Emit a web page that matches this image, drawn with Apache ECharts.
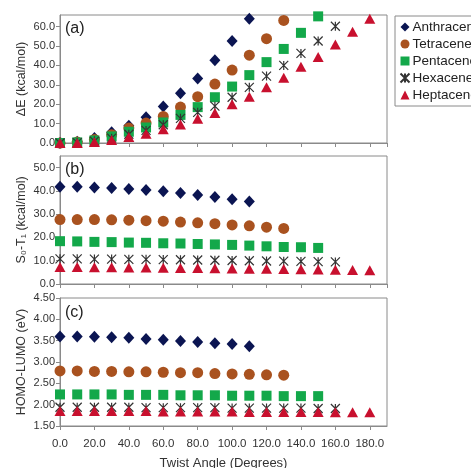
<!DOCTYPE html>
<html><head><meta charset="utf-8">
<script src="https://cdn.jsdelivr.net/npm/echarts@6/dist/echarts.min.js"></script>
<style>html,body{margin:0;padding:0;background:#fff}#c{width:471px;height:468px}</style>
</head><body><div id="c"></div>
<script>
const angles = [0,10,20,30,40,50,60,70,80,90,100,110,120,130,140,150,160,170,180];
const seriesNames = ['Anthracene','Tetracene','Pentacene','Hexacene','Heptacene'];
const xTickLabels = ['0.0','20.0','40.0','60.0','80.0','100.0','120.0','140.0','160.0','180.0'];

// Panel (a): ΔE (kcal/mol)
const dE_anthracene = [0, 0.7, 2.6, 5.5, 8.9, 13.3, 18.8, 25.6, 33.3, 42.7, 52.6, 64.1];
const dE_tetracene  = [0, 0.5, 1.8, 4.3, 7.7, 10.3, 13.7, 18.5, 23.9, 30.4, 37.6, 45.3, 53.8, 63.2];
const dE_pentacene  = [0, 0.3, 1.3, 3.4, 5.8, 8.0, 10.6, 14.5, 18.5, 23.6, 29.1, 35.0, 41.7, 48.5, 56.8, 65.3];
const dE_hexacene   = [0, 0.2, 1.0, 2.5, 4.5, 6.5, 9.4, 12.7, 15.8, 19.0, 23.6, 28.7, 34.5, 40.0, 46.2, 52.6, 60.2];
const dE_heptacene  = [0, 0, 0.5, 1.5, 3.1, 4.8, 7.1, 9.6, 12.5, 15.5, 20.0, 23.9, 28.7, 33.7, 39.3, 44.4, 50.8, 57.3, 64.1];

// Panel (b): S0-T1 (kcal/mol)
const st_anthracene = [41.8, 41.8, 41.5, 41.2, 40.8, 40.4, 39.8, 39.1, 38.2, 37.4, 36.4, 35.5];
const st_tetracene  = [27.7, 27.7, 27.7, 27.6, 27.4, 27.2, 27.0, 26.6, 26.3, 25.9, 25.4, 25.0, 24.4, 23.9];
const st_pentacene  = [18.4, 18.3, 18.1, 18.0, 17.8, 17.7, 17.5, 17.4, 17.2, 17.0, 16.8, 16.5, 16.2, 15.9, 15.8, 15.5];
const st_hexacene   = [10.8, 10.8, 10.7, 10.7, 10.6, 10.6, 10.5, 10.4, 10.3, 10.2, 10.1, 10.0, 9.9, 9.8, 9.7, 9.6, 9.5];
const st_heptacene  = [7.3, 7.3, 7.2, 7.2, 7.1, 7.1, 7.0, 6.9, 6.9, 6.8, 6.7, 6.6, 6.5, 6.4, 6.3, 6.2, 6.1, 6.0, 5.9];

// Panel (c): HOMO-LUMO (eV)
const hl_anthracene = [3.60, 3.60, 3.59, 3.58, 3.57, 3.54, 3.52, 3.49, 3.47, 3.44, 3.42, 3.37];
const hl_tetracene  = [2.79, 2.79, 2.78, 2.78, 2.77, 2.77, 2.76, 2.75, 2.75, 2.73, 2.72, 2.71, 2.70, 2.69];
const hl_pentacene  = [2.24, 2.24, 2.24, 2.24, 2.23, 2.23, 2.23, 2.22, 2.22, 2.22, 2.21, 2.21, 2.21, 2.20, 2.20, 2.20];
const hl_hexacene   = [1.94, 1.94, 1.94, 1.94, 1.94, 1.93, 1.93, 1.93, 1.93, 1.93, 1.92, 1.92, 1.92, 1.92, 1.92, 1.91, 1.91];
const hl_heptacene  = [1.85, 1.85, 1.85, 1.85, 1.85, 1.85, 1.84, 1.84, 1.84, 1.84, 1.84, 1.83, 1.83, 1.83, 1.83, 1.83, 1.82, 1.82, 1.82];

const panels = [
  [dE_anthracene, dE_tetracene, dE_pentacene, dE_hexacene, dE_heptacene],
  [st_anthracene, st_tetracene, st_pentacene, st_hexacene, st_heptacene],
  [hl_anthracene, hl_tetracene, hl_pentacene, hl_hexacene, hl_heptacene]
];

const FONT = '"Liberation Sans", Arial, sans-serif';
const AX = '#8a8a8a';
const styles = [
  {symbol: 'diamond', symbolSize: [11, 12], itemStyle: {color: '#0b1552', opacity: 1}},
  {symbol: 'circle', symbolSize: 11, itemStyle: {color: '#a9521f', opacity: 1}},
  {symbol: 'rect', symbolSize: 10, itemStyle: {color: '#13a84a', opacity: 1}},
  {symbol: 'path://M0,0L10,10M10,0L0,10M5,0L5,10', symbolSize: 9,
   itemStyle: {color: 'none', borderColor: '#333', borderWidth: 1.2, opacity: 1}},
  {symbol: 'triangle', symbolSize: [11, 10], itemStyle: {color: '#c8102e', opacity: 1}}
];

const gridTops = [15, 156, 298];
const grids = gridTops.map(t => ({left: 60, top: t, width: 327, height: 128, show: true,
  containLabel: false, outerBoundsMode: 'none',
  borderColor: AX, borderWidth: 1, backgroundColor: 'transparent'}));

const xAxes = gridTops.map((t, i) => ({
  type: 'value', gridIndex: i, min: 0, max: 190, interval: 20,
  axisLine: {show: true, lineStyle: {color: AX}},
  axisTick: {show: true, length: 4, lineStyle: {color: AX}},
  splitLine: {show: false},
  axisLabel: {show: i === 2, showMaxLabel: false, color: '#333', fontSize: 11.5, fontFamily: FONT, margin: 12,
    formatter: v => xTickLabels[v / 20] || ''},
  name: i === 2 ? 'Twist Angle (Degrees)' : '', nameLocation: 'middle', nameGap: 31, nameMoveOverlap: false,
  nameTextStyle: {color: '#333', fontSize: 13, fontFamily: FONT}
}));

const yCfg = [
  {min: 0, max: 66, interval: 10, name: 'ΔE (kcal/mol)', dec: 1},
  {min: 0, max: 55, interval: 10, name: 'S₀-T₁ (kcal/mol)', dec: 1},
  {min: 1.5, max: 4.5, interval: 0.5, name: 'HOMO-LUMO (eV)', dec: 2}
];
const yAxes = yCfg.map((c, i) => ({
  type: 'value', gridIndex: i, min: c.min, max: c.max, interval: c.interval,
  axisLine: {show: true, lineStyle: {color: AX}},
  axisTick: {show: true, length: 4, lineStyle: {color: AX}},
  splitLine: {show: false},
  axisLabel: {color: '#333', fontSize: 11, fontFamily: FONT, margin: 5, showMaxLabel: i === 2,
    formatter: v => v.toFixed(c.dec)},
  name: c.name, nameLocation: 'middle', nameGap: 32, nameMoveOverlap: false,
  nameTextStyle: {color: '#333', fontSize: 12.5, fontFamily: FONT}
}));

const series = [];
panels.forEach((arrs, g) => {
  arrs.forEach((vals, k) => {
    series.push(Object.assign({
      type: 'scatter', name: seriesNames[k], xAxisIndex: g, yAxisIndex: g,
      data: vals.map((v, j) => [angles[j], v]), z: 2 + k, clip: false
    }, styles[k]));
  });
});

const chart = echarts.init(document.getElementById('c'), null, {renderer: 'canvas'});
chart.setOption({
  animation: false,
  backgroundColor: '#fff',
  grid: grids, xAxis: xAxes, yAxis: yAxes, series: series,
  legend: {
    data: seriesNames, orient: 'vertical', left: 395, top: 16,
    padding: [4, 4, 4, 3], itemGap: 3, itemWidth: 9, itemHeight: 9,
    borderColor: AX, borderWidth: 1, borderRadius: 0,
    textStyle: {color: '#222', fontSize: 13.5, fontFamily: FONT, padding: [0, 0, 0, -2]}
  },
  graphic: [
    {type: 'text', left: 65, top: 21, style: {text: '(a)', fontSize: 16, fontFamily: FONT, fill: '#222'}},
    {type: 'text', left: 65, top: 162, style: {text: '(b)', fontSize: 16, fontFamily: FONT, fill: '#222'}},
    {type: 'text', left: 65, top: 305, style: {text: '(c)', fontSize: 16, fontFamily: FONT, fill: '#222'}}
  ]
});
</script></body></html>
